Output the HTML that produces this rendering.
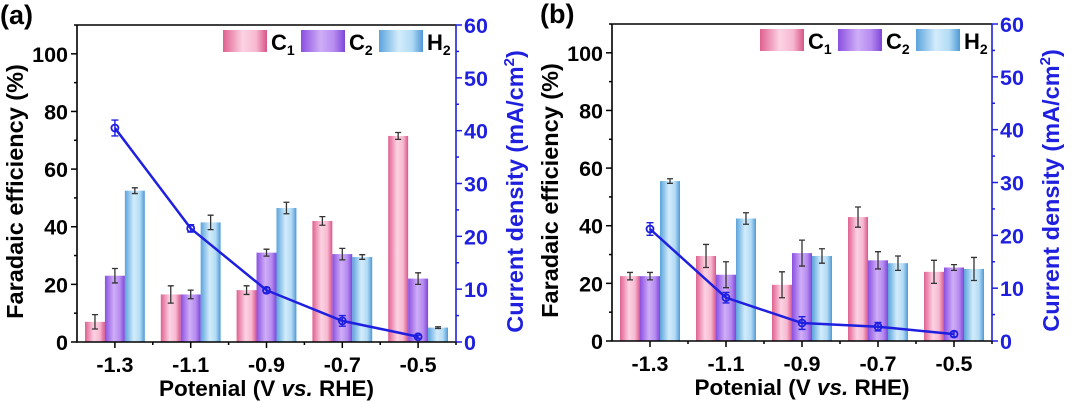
<!DOCTYPE html>
<html><head><meta charset="utf-8"><style>
body{margin:0;background:#fff;}
svg{display:block;font-family:"Liberation Sans",Arial,sans-serif;font-weight:bold;}
</style></head><body>
<svg id="chart" width="1080" height="402" viewBox="0 0 1080 402" xmlns="http://www.w3.org/2000/svg">
<defs>
<linearGradient id="gC1" x1="0" x2="1" y1="0" y2="0"><stop offset="0" stop-color="#e0608f"/><stop offset="0.45" stop-color="#fcd3e3"/><stop offset="0.75" stop-color="#f7b8d0"/><stop offset="1" stop-color="#d9558a"/></linearGradient>
<linearGradient id="gC2" x1="0" x2="1" y1="0" y2="0"><stop offset="0" stop-color="#8a4fe0"/><stop offset="0.45" stop-color="#cfaef7"/><stop offset="0.75" stop-color="#b68cf0"/><stop offset="1" stop-color="#7e45d8"/></linearGradient>
<linearGradient id="gH2" x1="0" x2="1" y1="0" y2="0"><stop offset="0" stop-color="#5aa3dc"/><stop offset="0.45" stop-color="#d3ecfb"/><stop offset="0.75" stop-color="#b3dcf5"/><stop offset="1" stop-color="#4f98d6"/></linearGradient>
</defs>
</svg>
<script>
const categories = [-1.3, -1.1, -0.9, -0.7, -0.5];
const tickLabels = ["-1.3","-1.1","-0.9","-0.7","-0.5"];
const leftTicks = [0,20,40,60,80,100];
const rightTicks = [0,10,20,30,40,50,60];
const aC1 = [7,16.5,18,42,71.5];
const aC1err = [2.5,3,1.5,1.5,1.2];
const aC2 = [23,16.5,31,30.5,22];
const aC2err = [2.5,1.5,1.2,2,2];
const aH2 = [52.5,41.5,46.5,29.5,5];
const aH2err = [1,2.5,2,0.8,0.3];
const aJ = [40.5,21.5,9.8,4,1];
const aJerr = [1.5,0.7,0.5,1,0.3];
const bC1 = [22.5,29.5,19.5,43,24];
const bC1err = [1.3,4,4.5,3.5,4];
const bC2 = [22.5,23,30.5,28,25.5];
const bC2err = [1.3,4.5,4.5,3,1];
const bH2 = [55.5,42.5,29.5,27,25];
const bH2err = [0.8,2,2.5,2.5,4];
const bJ = [21.2,8.2,3.4,2.7,1.3];
const bJerr = [1.2,1,1.2,0.8,0.5];

const svg = document.getElementById('chart');
const NS = 'http://www.w3.org/2000/svg';
function mk(tag, attrs, parent, text){
  const e = document.createElementNS(NS, tag);
  for (const k in attrs) e.setAttribute(k, attrs[k]);
  if (text !== undefined) e.textContent = text;
  (parent||svg).appendChild(e);
  return e;
}
const BLUE = '#1f1fe0';

function panel(L, R, T, B, label, C1, C1e, C2, C2e, H2, H2e, J, Je, lgX){
  const g = mk('g', {});
  
  
  const x = v => L + (v - (-1.4)) / 1.0 * (R - L);
  const y = v => B - v / 110 * (B - T);
  const y2 = v => B - v / 60 * (B - T);
  const bw = (R - L) / 5 * 0.263;
  const series = [[C1, C1e, 'gC1', 'c1'], [C2, C2e, 'gC2', 'c2'], [H2, H2e, 'gH2', 'h2']];
  series.forEach((s, si) => {
    s[0].forEach((v, i) => {
      const cx = x(categories[i]) + (si - 1) * bw;
      const r = mk('rect', {x: cx - bw/2, y: y(v), width: bw, height: B - y(v), fill: 'url(#' + s[2] + ')'}, g);
      
      
      const e = s[1][i];
      const eb = mk('path', {d: `M${cx},${y(v+e)}V${y(v-e)}M${cx-3},${y(v+e)}H${cx+3}M${cx-3},${y(v-e)}H${cx+3}`, stroke: '#333', 'stroke-width': 1.3, fill: 'none'}, g);
      
      
    });
  });
  const pts = J.map((v, i) => `${x(categories[i])},${y2(v)}`).join(' ');
  const line = mk('polyline', {points: pts, fill: 'none', stroke: BLUE, 'stroke-width': 2.5}, g);
  
  
  J.forEach((v, i) => {
    const cx = x(categories[i]), e = Je[i];
    const eb = mk('path', {d: `M${cx},${y2(v+e)}V${y2(v-e)}M${cx-3.5},${y2(v+e)}H${cx+3.5}M${cx-3.5},${y2(v-e)}H${cx+3.5}`, stroke: BLUE, 'stroke-width': 1.4, fill: 'none'}, g);
    
    
    const c = mk('circle', {cx: cx, cy: y2(v), r: 3.5, fill: 'none', stroke: BLUE, 'stroke-width': 1.8}, g);
    
    
  });
  mk('path', {d: `M${L},${T}H${R}M${L},${T}V${B}H${R}`, stroke: '#000', 'stroke-width': 1.6, fill: 'none'}, g);
  mk('line', {x1: R, y1: T, x2: R, y2: B, stroke: BLUE, 'stroke-width': 1.6}, g);
  for (let v = 0; v <= 110; v += 10) {
    const len = v % 20 === 0 ? 6 : 3;
    mk('line', {x1: L - len, x2: L, y1: y(v), y2: y(v), stroke: '#000', 'stroke-width': 1.5}, g);
  }
  leftTicks.forEach(v => {
    const t = mk('text', {x: L - 9, y: y(v) + 8, 'text-anchor': 'end', 'font-size': 21.5}, g, String(v));
    
    
  });
  for (let v = 0; v <= 60; v += 5) {
    const len = v % 10 === 0 ? 6 : 3;
    mk('line', {x1: R, x2: R + len, y1: y2(v), y2: y2(v), stroke: BLUE, 'stroke-width': 1.5}, g);
  }
  rightTicks.forEach(v => {
    const t = mk('text', {x: R + 8, y: y2(v) + 8, 'font-size': 21.5, fill: BLUE}, g, String(v));
    
    
  });
  for (let k = 0; k < 10; k++) {
    const v = -1.4 + 0.1 * k + 0.1;
    const major = k % 2 === 0;
    mk('line', {x1: x(v), x2: x(v), y1: B, y2: B + (major ? 6 : 3), stroke: '#000', 'stroke-width': 1.5}, g);
  }
  categories.forEach((c, i) => {
    const t = mk('text', {x: x(c), y: B + 30, 'text-anchor': 'middle', 'font-size': 21.5}, g, tickLabels[i]);
    
    
  });
  const xt = mk('text', {x: (L + R) / 2, y: B + 54, 'text-anchor': 'middle', 'font-size': 22.5}, g);
  
  
  xt.innerHTML = 'Potenial (V <tspan font-style="italic">vs.</tspan> RHE)';
  const yt = mk('text', {x: 0, y: 0, 'text-anchor': 'middle', 'font-size': 23.5, transform: `translate(${L - 54},${(T + B) / 2 + 8}) rotate(-90)`}, g, 'Faradaic efficiency (%)');
  
  
  const y2t = mk('text', {x: 0, y: 0, 'text-anchor': 'middle', 'font-size': 23.5, fill: BLUE, transform: `translate(${R + 67},${(T + B) / 2 + 8}) rotate(-90)`}, g);
  
  
  y2t.innerHTML = 'Current density (mA/cm<tspan font-size="15" dy="-9">2</tspan><tspan dy="9">)</tspan>';
  const names = [['C', '1', 'gC1'], ['C', '2', 'gC2'], ['H', '2', 'gH2']];
  names.forEach((n, i) => {
    const lx = lgX + i * 78;
    const sw = mk('rect', {x: lx, y: T + 5, width: 44, height: 22, fill: 'url(#' + n[2] + ')'}, g);
    
    
    const t = mk('text', {x: lx + 48, y: T + 25, 'font-size': 22}, g);
    
    
    t.innerHTML = n[0] + '<tspan font-size="14" dy="5">' + n[1] + '</tspan>';
  });
  const pl = mk('text', {x: L - 77 + (label === 'b' ? 5 : 0), y: T - 1, 'font-size': 27}, g, '(' + label + ')');
  
  
}
panel(77, 456, 25, 342, 'a', aC1, aC1err, aC2, aC2err, aH2, aH2err, aJ, aJerr, 223);
panel(612, 992, 24, 341, 'b', bC1, bC1err, bC2, bC2err, bH2, bH2err, bJ, bJerr, 760);
</script>
</body></html>
